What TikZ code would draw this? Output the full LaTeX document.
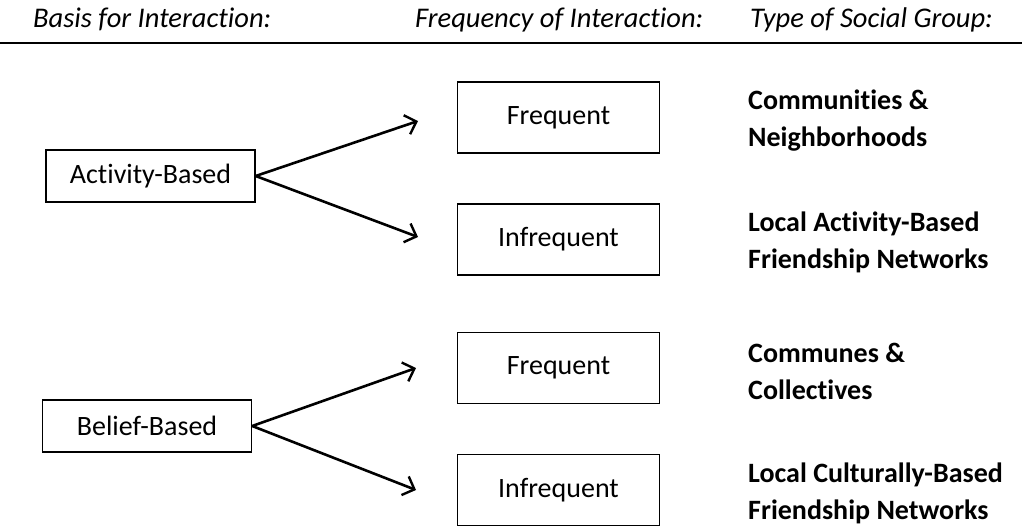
\documentclass[tikz,border=0pt]{standalone}
\usepackage{fontspec}
\setmainfont{Carlito}[Ligatures=NoCommon]
\usetikzlibrary{arrows.meta}
\begin{document}
\begin{tikzpicture}[x=1pt, y=-1pt, font=\fontsize{28}{37}\selectfont,
  basisbox/.style={draw, line width=1.4pt, minimum width=209pt, minimum height=52pt, inner sep=0pt},
  freqbox/.style={draw, line width=1.4pt, minimum width=202pt, minimum height=71pt, inner sep=0pt},
  grouplabel/.style={anchor=west, align=left, inner sep=0pt, font=\fontsize{28}{37}\selectfont\bfseries},
  header/.style={anchor=base west, inner sep=0pt, font=\fontsize{28.5}{32}\selectfont\itshape},
  fork/.style={-{Straight Barb[length=10pt, width=20pt, line width=2.4pt]}, line width=2.6pt}]
\useasboundingbox (0,0) rectangle (1022,527);
% column headings
\node[header] (hbasis) at (33,28) {Basis for Interaction:};
\node[header] (hfreq) at (415,28) {Frequency of Interaction:};
\node[header] (htype) at (750,28) {Type of Social Group:};
\draw[line width=2.2pt] (0,43) -- (1022,43);
% basis boxes
\node[basisbox] (activity) at (150.5,176) {Activity-Based};
\node[basisbox] (belief) at (147,426) {Belief-Based};
% frequency boxes and group labels
\foreach \n/\y/\f/\g in {f1/117.5/Frequent/{Communities \&\\Neighborhoods},
                         f2/239.5/Infrequent/{Local Activity-Based\\Friendship Networks},
                         f3/368/Frequent/{Communes \&\\Collectives},
                         f4/490/Infrequent/{Local Culturally-Based\\Friendship Networks}} {
  \node[freqbox] (\n) at (558.5,\y) {\f};
  \node[grouplabel] (g\n) at (748,\y+3) {\g};
}
% arrows
\coordinate (t1) at (418,121);
\coordinate (t2) at (418,237);
\coordinate (t3) at (416,368);
\coordinate (t4) at (416,490);
\draw[fork] (activity.east) -- (t1);
\draw[fork] (activity.east) -- (t2);
\draw[fork] (belief.east) -- (t3);
\draw[fork] (belief.east) -- (t4);
\end{tikzpicture}
\end{document}
